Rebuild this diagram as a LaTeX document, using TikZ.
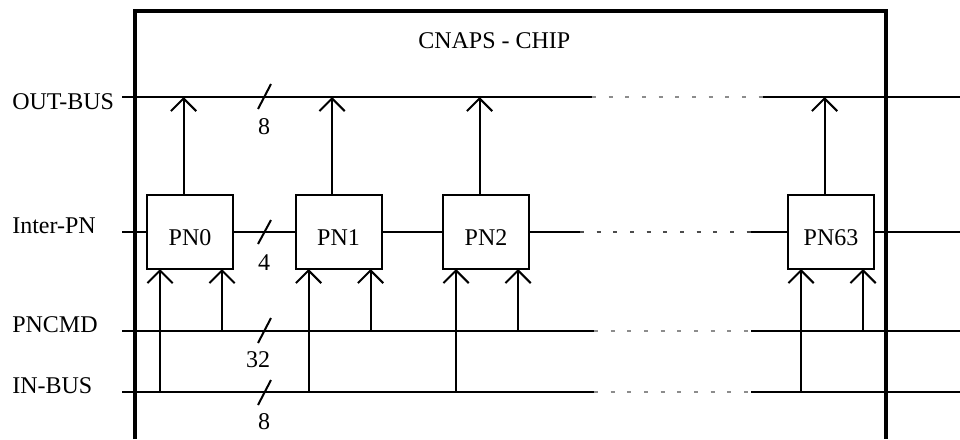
\documentclass[tikz,border=0pt]{standalone}
\usepackage{fontspec}
\setmainfont{Liberation Serif}
\usetikzlibrary{arrows.meta,calc}
\begin{document}
\begin{tikzpicture}[x=0.75pt,y=-0.75pt,
  txt/.style={font=\fontsize{18}{20}\selectfont, inner sep=0pt},
  wire/.style={line width=1.5pt, line cap=butt},
  frame/.style={line width=3pt, line join=miter},
  dots/.style={line width=1.2pt, draw=black!45, dash pattern=on 3pt off 9.5pt},
  idots/.style={line width=1.2pt, draw=black!70, dash pattern=on 3pt off 9.5pt},
  arr/.style={-{Straight Barb[length=9.5pt,width=19pt]}},
  pn/.style={draw, line width=1.5pt, fill=white, minimum width=64.5pt, minimum height=55.5pt,
    outer sep=0pt, inner sep=0pt, font=\fontsize{18}{20}\selectfont, text height=20.5pt, text depth=0pt},
  busname/.style={txt, anchor=base west},
  width/.style={txt}]
\useasboundingbox (0,0) rectangle (960,439);

% chip frame
\draw[frame] (135,439) -- (135,11) -- (886,11) -- (886,439);
\node[txt, anchor=base west] (title) at (418,48) {CNAPS - CHIP};

% bus names
\node[busname] (lout) at (12,109) {OUT-BUS};
\node[busname] (linter) at (12,233) {Inter-PN};
\node[busname] (lcmd) at (12,332) {PNCMD};
\node[busname] (lin) at (12,393) {IN-BUS};

% bus coordinates
\coordinate (oL) at (122,97);  \coordinate (oD1) at (592,97);  \coordinate (oD2) at (763,97);  \coordinate (oR) at (960,97);
\coordinate (iL) at (122,232); \coordinate (iD1) at (580,232); \coordinate (iD2) at (751,232); \coordinate (iR) at (960,232);
\coordinate (cL) at (122,331); \coordinate (cD1) at (594,331); \coordinate (cD2) at (751,331); \coordinate (cR) at (960,331);
\coordinate (nL) at (122,392); \coordinate (nD1) at (594,392); \coordinate (nD2) at (751,392); \coordinate (nR) at (960,392);

% processing nodes
\node[pn] (PN0) at (190,232) {PN0};
\node[pn] (PN1) at (338.5,232) {PN1};
\node[pn] (PN2) at (486,232) {PN2};
\node[pn] (PN63) at (831,232) {PN63};

% buses
\draw[wire] (oL) -- (oD1);
\draw[dots] (oD1) -- (oD2);
\draw[wire] (oD2) -- (oR);

\draw[wire] (iL) -- (PN0);
\draw[wire] (PN0) -- (PN1);
\draw[wire] (PN1) -- (PN2);
\draw[wire] (PN2) -- (iD1);
\draw[idots] (iD1) -- (iD2);
\draw[wire] (iD2) -- (PN63);
\draw[wire] (PN63) -- (iR);

\draw[wire] (cL) -- (cD1);
\draw[dots] (cD1) -- (cD2);
\draw[wire] (cD2) -- (cR);

\draw[wire] (nL) -- (nD1);
\draw[dots] (nD1) -- (nD2);
\draw[wire] (nD2) -- (nR);

% node connections
\foreach \n in {PN0,PN1,PN2,PN63}{
  \coordinate (\n-t) at ([xshift=-4.875pt]\n.north);
  \coordinate (\n-a) at ([xshift=9.75pt]\n.south west);
  \coordinate (\n-b) at ([xshift=56.25pt]\n.south west);
  \draw[wire,arr] (\n-t) -- (\n-t |- oL);
  \draw[wire,arr] (\n-a |- nL) -- (\n-a);
  \draw[wire,arr] (\n-b |- cL) -- (\n-b);
}

% bus width marks
\draw[wire] (258,109) -- (271,84);
\node[width] (w1) at (264,127) {8};
\draw[wire] (258,244) -- (271,220);
\node[width] (w2) at (264,263) {4};
\draw[wire] (258,343) -- (271,318);
\node[width] (w3) at (258,360) {32};
\draw[wire] (258,405) -- (271,380);
\node[width] (w4) at (264,422) {8};
\end{tikzpicture}
\end{document}
